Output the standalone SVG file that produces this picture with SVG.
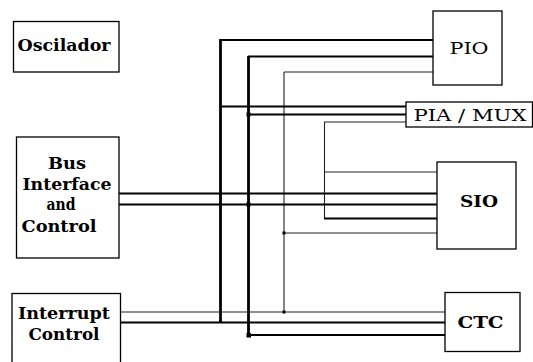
<svg xmlns="http://www.w3.org/2000/svg" width="533" height="362" viewBox="0 0 533 362">
<style>
.box{fill:#fff;stroke:#000;stroke-width:1.3}
.t{font-family:"DejaVu Serif","Liberation Serif",serif;font-size:16px;font-weight:bold;fill:#000;text-anchor:middle}
.n{font-weight:normal}
.thick{stroke:#000;stroke-width:2.2;fill:none}
.bus{stroke:#000;stroke-width:2.8;fill:none}
.thin{stroke:#222;stroke-width:1.1;fill:none}
.dot{fill:#000}
</style>
<rect width="533" height="362" fill="#fff"/>
<g id="connectors">
  <line class="bus" x1="220.5" y1="39" x2="220.5" y2="322.5"/>
  <line class="bus" x1="248.5" y1="56" x2="248.5" y2="335.5"/>
  <line class="thin" x1="284" y1="72" x2="284" y2="312"/>
  <line class="thin" x1="324.5" y1="122" x2="324.5" y2="218.5"/>
  <line class="thick" x1="220" y1="40" x2="433" y2="40"/>
  <line class="thick" x1="248" y1="56.5" x2="433" y2="56.5"/>
  <line class="thin" x1="284" y1="72" x2="433" y2="72"/>
  <line class="thick" x1="220" y1="106.5" x2="406" y2="106.5"/>
  <line class="thick" x1="248" y1="114.5" x2="406" y2="114.5"/>
  <line class="thin" x1="324" y1="122" x2="406" y2="122"/>
  <line class="thin" x1="324" y1="172" x2="437" y2="172"/>
  <line class="thick" x1="119" y1="193.5" x2="437" y2="193.5"/>
  <line class="thick" x1="119" y1="204.5" x2="437" y2="204.5"/>
  <line class="thick" x1="324" y1="218.5" x2="437" y2="218.5"/>
  <line class="thin" x1="284" y1="233" x2="437" y2="233"/>
  <line class="thin" x1="121" y1="312" x2="445" y2="312"/>
  <line class="thick" x1="121" y1="322.5" x2="445" y2="322.5"/>
  <line class="thick" x1="248" y1="335" x2="445" y2="335"/>
  <rect class="dot" x="246.5" y="112.5" width="4" height="4"/>
  <rect class="dot" x="246.5" y="202.5" width="4" height="4"/>
  <rect class="dot" x="246.5" y="333" width="4.5" height="4.5"/>
  <rect class="dot" x="282.5" y="231.5" width="3" height="3"/>
  <rect class="dot" x="282.5" y="310.5" width="3" height="3"/>
</g>
<g id="oscilador">
  <rect class="box" x="13.5" y="21.5" width="105.5" height="50.5"/>
  <text class="t" x="64" y="50.5" textLength="93" lengthAdjust="spacingAndGlyphs">Oscilador</text>
</g>
<g id="bus-interface">
  <rect class="box" x="16.5" y="137" width="102.5" height="121"/>
  <text class="t" x="67" y="169" textLength="38" lengthAdjust="spacingAndGlyphs">Bus</text>
  <text class="t" x="67" y="190" textLength="89" lengthAdjust="spacingAndGlyphs">Interface</text>
  <text class="t" x="61" y="210" textLength="29" lengthAdjust="spacingAndGlyphs">and</text>
  <text class="t" x="59" y="232" textLength="75" lengthAdjust="spacingAndGlyphs">Control</text>
</g>
<g id="interrupt-control">
  <rect class="box" x="12" y="293.5" width="108.5" height="80"/>
  <text class="t" x="64" y="319" textLength="92" lengthAdjust="spacingAndGlyphs">Interrupt</text>
  <text class="t" x="64" y="339.5" textLength="71" lengthAdjust="spacingAndGlyphs">Control</text>
</g>
<g id="pio">
  <rect class="box" x="433" y="11" width="69" height="74"/>
  <text class="t n" x="469" y="53.5" textLength="39" lengthAdjust="spacingAndGlyphs">PIO</text>
</g>
<g id="pia-mux">
  <rect class="box" x="406" y="102" width="126.5" height="25"/>
  <text class="t n" x="470" y="121" textLength="113" lengthAdjust="spacingAndGlyphs">PIA / MUX</text>
</g>
<g id="sio">
  <rect class="box" x="437" y="162" width="79" height="87"/>
  <text class="t" x="479" y="207" textLength="38" lengthAdjust="spacingAndGlyphs">SIO</text>
</g>
<g id="ctc">
  <rect class="box" x="445" y="292.5" width="75" height="59"/>
  <text class="t" x="480.5" y="328" textLength="46" lengthAdjust="spacingAndGlyphs">CTC</text>
</g>
</svg>
